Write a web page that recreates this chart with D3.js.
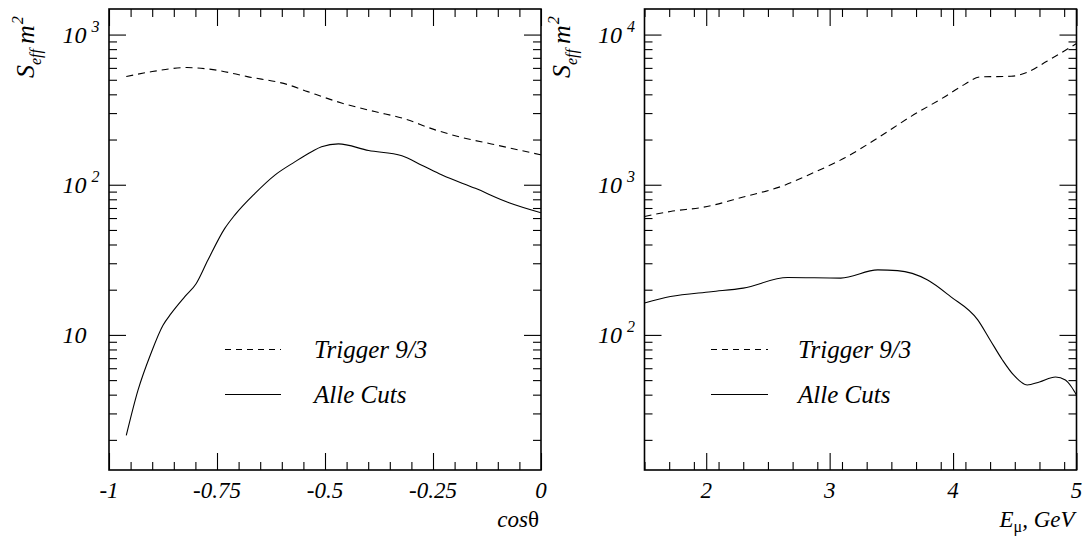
<!DOCTYPE html>
<html><head><meta charset="utf-8">
<script src="https://cdn.jsdelivr.net/npm/d3@7"></script>
<style>
body{margin:0;background:#fff}
svg text{font-family:'Liberation Serif', 'Times New Roman', Times, serif;font-style:italic;fill:#000}
</style>
</head><body>
<svg id="c" width="1085" height="538"></svg>
<script>
// ---------- data ----------
const leftTrigX   = [-0.96, -0.90, -0.82, -0.755, -0.68, -0.585, -0.54, -0.46, -0.385, -0.32, -0.245, -0.185, -0.115, 0];
const leftTrigY   = [525, 567, 603, 582, 525, 463, 417, 349, 307, 277, 232, 207, 187, 158];
const leftCutsX   = [-0.96, -0.933, -0.903, -0.875, -0.856, -0.825, -0.798, -0.771, -0.732, -0.709, -0.662, -0.616, -0.57, -0.531, -0.508, -0.469, -0.399, -0.322, -0.276, -0.229, -0.152, -0.074, 0];
const leftCutsY   = [2.14, 4.27, 7.52, 11.6, 13.9, 17.9, 22.0, 31.5, 51.2, 62.8, 87.7, 116, 142, 166, 179, 187, 169, 156, 135, 116, 94.6, 75.9, 65.1];

const rightTrigX  = [1.5, 1.71, 1.98, 2.3, 2.63, 2.85, 3.12, 3.39, 3.66, 3.93, 4.09, 4.22, 4.47, 4.6, 4.76, 4.93, 5.0];
const rightTrigY  = [615, 664, 709, 828, 989, 1184, 1506, 2049, 2853, 3843, 4642, 5227, 5272, 5605, 6637, 8035, 8710];
const rightCutsX  = [1.5, 1.71, 2.04, 2.3, 2.66, 3.09, 3.39, 3.55, 3.79, 3.98, 4.2, 4.3, 4.4, 4.49, 4.6, 4.7, 4.83, 4.91, 4.96, 5.0];
const rightCutsY  = [163, 180, 194, 205, 241, 239, 271, 268, 233, 180, 126, 92.6, 68.1, 54.1, 46.4, 48.6, 52.5, 50.1, 45, 39.8];

const leftXTicks  = [-1, -0.75, -0.5, -0.25, 0];
const leftXLabels = ["-1", "-0.75", "-0.5", "-0.25", "0"];
const rightXTicks = [2, 3, 4, 5];
const rightXLabels= ["2", "3", "4", "5"];
const leftYExps   = [1, 2, 3];
const rightYExps  = [2, 3, 4];
const legendNames = ["Trigger 9/3", "Alle Cuts"];

// ---------- drawing ----------
const svg = d3.select("#c");
const plotTop = 9, plotBottom = 470;

function panel(cfg) {
  const g = svg.append("g");
  const x = d3.scaleLinear().domain(cfg.xDomain).range([cfg.x0, cfg.x1]);
  const y = d3.scaleLog().domain(cfg.yDomain).range([plotBottom, plotTop]);
  const clipId = "clip" + cfg.id;
  svg.append("clipPath").attr("id", clipId).append("rect")
    .attr("x", cfg.x0).attr("y", plotTop).attr("width", cfg.x1 - cfg.x0).attr("height", plotBottom - plotTop);

  const [d0, d1] = cfg.yDomain;
  const yMinor = [];
  for (let e = Math.floor(Math.log10(d0)); e <= Math.ceil(Math.log10(d1)); e++)
    for (let k = 2; k <= 9; k++) { const v = k * Math.pow(10, e); if (v >= d0 && v <= d1) yMinor.push(v); }
  const yMajor = cfg.yExps.map(e => Math.pow(10, e));
  const xMinor = d3.range(cfg.xDomain[0], cfg.xDomain[1] + 1e-9, cfg.xMinorStep)
    .filter(v => !cfg.xTicks.some(t => Math.abs(t - v) < 1e-6));

  function ax(axisFn, scale, vals, size, tr) {
    const a = g.append("g").attr("transform", tr)
      .call(axisFn(scale).tickValues(vals).tickSize(size).tickFormat(""));
    a.select(".domain").remove();
    a.selectAll("line").attr("stroke", "#000").attr("stroke-width", 1.1);
  }
  ax(d3.axisBottom, x, xMinor, -8, `translate(0,${plotBottom})`);
  ax(d3.axisBottom, x, cfg.xTicks, -17, `translate(0,${plotBottom})`);
  ax(d3.axisTop, x, xMinor, -8, `translate(0,${plotTop})`);
  ax(d3.axisTop, x, cfg.xTicks, -17, `translate(0,${plotTop})`);
  ax(d3.axisLeft, y, yMinor, -8, `translate(${cfg.x0},0)`);
  ax(d3.axisLeft, y, yMajor, -17, `translate(${cfg.x0},0)`);
  ax(d3.axisRight, y, yMinor, -8, `translate(${cfg.x1},0)`);
  ax(d3.axisRight, y, yMajor, -17, `translate(${cfg.x1},0)`);

  g.append("rect").attr("x", cfg.x0).attr("y", plotTop).attr("width", cfg.x1 - cfg.x0).attr("height", plotBottom - plotTop)
    .attr("fill", "none").attr("stroke", "#000").attr("stroke-width", 1.6);

  cfg.xTicks.forEach((t, i) => {
    g.append("text").attr("x", x(t)).attr("y", 498).attr("text-anchor", "middle")
      .attr("font-size", 23).text(cfg.xLabels[i]);
  });
  cfg.yExps.forEach(e => {
    const yy = y(Math.pow(10, e));
    g.append("text").attr("x", cfg.x0 - 22.5).attr("y", yy + 8.5).attr("text-anchor", "end")
      .attr("font-size", 24).text("10");
    if (e !== 1)
      g.append("text").attr("x", cfg.x0 - 17.5).attr("y", yy - 3).attr("font-size", 16).text(String(e));
  });

  const line = d3.line().x(d => x(d[0])).y(d => y(d[1])).curve(d3.curveMonotoneX);
  const lg = g.append("g").attr("clip-path", `url(#${clipId})`);
  lg.append("path").datum(d3.zip(cfg.trigX, cfg.trigY)).attr("d", line)
    .attr("fill", "none").attr("stroke", "#000").attr("stroke-width", 1.1).attr("stroke-dasharray", "7,5");
  lg.append("path").datum(d3.zip(cfg.cutsX, cfg.cutsY)).attr("d", line)
    .attr("fill", "none").attr("stroke", "#000").attr("stroke-width", 1.1);

  const ly = [349.5, 394.5];
  [0, 1].forEach(i => {
    g.append("line").attr("x1", cfg.legLine[0]).attr("x2", cfg.legLine[1]).attr("y1", ly[i]).attr("y2", ly[i])
      .attr("stroke", "#000").attr("stroke-width", 1.1).attr("stroke-dasharray", i === 0 ? "6,5" : null);
    g.append("text").attr("x", cfg.legText).attr("y", ly[i] + 8).attr("font-size", 25).text(legendNames[i]);
  });

  const yt = g.append("text").attr("transform", `translate(${cfg.x0 - 75},78) rotate(-90)`).attr("font-size", 26);
  yt.append("tspan").text("S");
  yt.append("tspan").attr("font-size", 16).attr("dy", 7).text("eff");
  yt.append("tspan").attr("dy", -7).attr("dx", 5).text("m");
  yt.append("tspan").attr("font-size", 16).attr("dy", -11).attr("dx", 1).text("2");

  const xt = g.append("text").attr("x", cfg.x1 - 2).attr("y", 527).attr("text-anchor", "end").attr("font-size", 23);
  cfg.xTitle(xt);
}

panel({
  id: "L", x0: 109, x1: 541, xDomain: [-1, 0], yDomain: [1.26, 1480],
  xTicks: leftXTicks, xLabels: leftXLabels, xMinorStep: 0.05, yExps: leftYExps,
  trigX: leftTrigX, trigY: leftTrigY, cutsX: leftCutsX, cutsY: leftCutsY,
  legLine: [225, 281], legText: 314,
  xTitle: t => { t.append("tspan").text("cos"); t.append("tspan").style("font-style", "normal").text("θ"); }
});
panel({
  id: "R", x0: 644.5, x1: 1076.5, xDomain: [1.5, 5], yDomain: [12.6, 14800],
  xTicks: rightXTicks, xLabels: rightXLabels, xMinorStep: 0.2, yExps: rightYExps,
  trigX: rightTrigX, trigY: rightTrigY, cutsX: rightCutsX, cutsY: rightCutsY,
  legLine: [711, 768], legText: 798,
  xTitle: t => {
    t.append("tspan").text("E");
    t.append("tspan").style("font-style", "normal").attr("font-size", 16).attr("dy", 5).text("μ");
    t.append("tspan").attr("dy", -5).text(", GeV");
  }
});
</script>
</body></html>
